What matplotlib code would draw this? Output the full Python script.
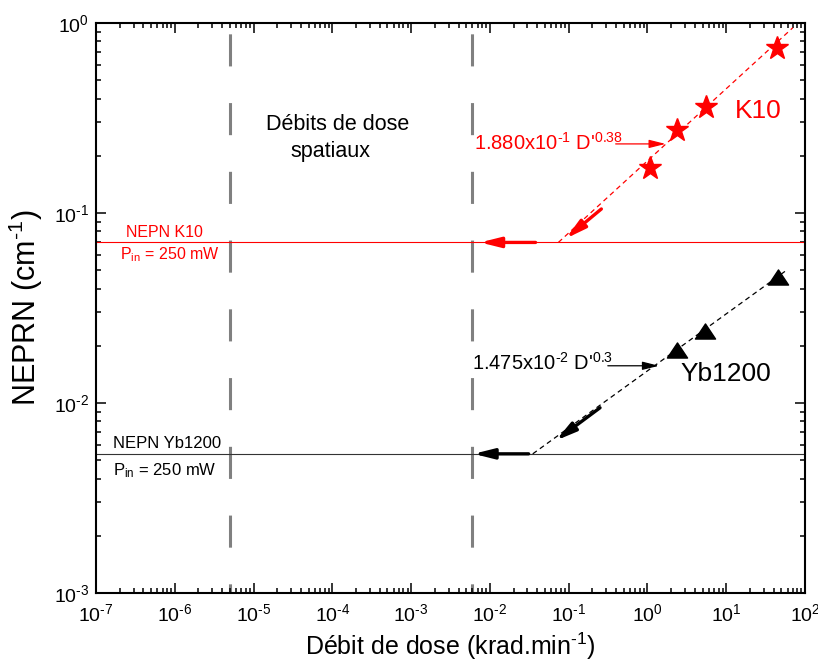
import math

import matplotlib

matplotlib.use("Agg")
import matplotlib.pyplot as plt
from matplotlib.markers import MarkerStyle
from matplotlib.path import Path
from matplotlib.ticker import LogLocator, FuncFormatter, NullFormatter

plt.rcParams["font.family"] = ["Liberation Sans", "DejaVu Sans"]
plt.rcParams["mathtext.fontset"] = "custom"
plt.rcParams["mathtext.rm"] = "Liberation Sans"
plt.rcParams["mathtext.it"] = "Liberation Sans"
plt.rcParams["mathtext.default"] = "regular"

k10_dose = [1.09, 2.39, 5.5, 43.9]
k10_neprn = [0.172, 0.275, 0.361, 0.742]
yb_dose = [2.35, 5.42, 45.2]
yb_neprn = [0.0191, 0.0239, 0.046]

# power-law fit segments: 1.880e-1 D^0.38 and 1.475e-2 D^0.3
k10_fit_dose = [0.074, 70]
k10_fit_neprn = [0.07, 0.944]
yb_fit_dose = [0.035, 60]
yb_fit_neprn = [0.0054, 0.0504]

# NEPN threshold levels (Pin = 250 mW)
nepn_k10 = 0.07
nepn_yb = 0.0054

# limits of the space dose-rate band
space_dose_limits = [5e-6, 6e-3]

RED = "#ff0000"
GRAY = "#808080"
HY = r"\text{-}"  # plain hyphen inside superscripts, as in the original

fig = plt.figure(figsize=(8.18, 6.62), dpi=100)
ax = fig.add_axes([96 / 818, 69 / 662, 709 / 818, 570 / 662])
ax.set_xscale("log")
ax.set_yscale("log")
ax.set_xlim(1e-7, 1e2)
ax.set_ylim(1e-3, 1e0)

for xv in space_dose_limits:
    ax.axvline(xv, color=GRAY, lw=2.2, linestyle=(7.5, (10.5, 12)), zorder=1)

ax.axhline(nepn_k10, color=RED, lw=0.8, zorder=2)
ax.axhline(nepn_yb, color="#333333", lw=0.8, zorder=2)

ax.plot(k10_fit_dose, k10_fit_neprn, color=RED, lw=0.9, linestyle=(0, (4, 3)), zorder=3)
ax.plot(yb_fit_dose, yb_fit_neprn, color="black", lw=0.9, linestyle=(0, (4, 3)), zorder=3)

flat_triangle = MarkerStyle(Path([(-1, -0.75), (1, -0.75), (0, 0.75), (-1, -0.75)], closed=True))
ax.plot(k10_dose, k10_neprn, linestyle="none", marker="*", ms=17, color=RED, mec=RED, zorder=4)
ax.plot(yb_dose, yb_neprn, linestyle="none", marker=flat_triangle, ms=14.5, color="black", zorder=4)


def arrow(tip, tail, color, lw, head_len, head_w):
    ax.annotate(
        "",
        xy=tip,
        xytext=tail,
        arrowprops=dict(
            arrowstyle=f"-|>,head_length={head_len},head_width={head_w}",
            color=color,
            lw=lw,
            shrinkA=0,
            shrinkB=0,
            mutation_scale=10,
        ),
        zorder=5,
    )


# thick arrows from the fit down to the NEPN level, then to the space band
arrow((0.092, 0.0734), (0.26, 0.105), RED, 2.4, 1.2, 0.3)
arrow((0.0075, nepn_k10), (0.038, nepn_k10), RED, 2.4, 1.2, 0.3)
arrow((0.069, 0.00635), (0.25, 0.00944), "black", 2.4, 1.2, 0.3)
arrow((0.0062, nepn_yb), (0.031, nepn_yb), "black", 2.4, 1.2, 0.3)

# thin arrows pointing at the fit lines
arrow((1.70, 0.231), (0.395, 0.231), RED, 0.9, 1.0, 0.25)
arrow((1.40, 0.0157), (0.314, 0.0157), "black", 0.9, 1.0, 0.25)

ax.text(0.488, 0.215, f"1.880x10$^{{{HY}1}}$ D'$^{{0.38}}$", color=RED, fontsize=14.5,
        ha="right", va="baseline")
ax.text(0.364, 0.01497, f"1.475x10$^{{{HY}2}}$ D'$^{{0.3}}$", color="black", fontsize=14.5,
        ha="right", va="baseline")

ax.text(25.5, 0.315, "K10", color=RED, fontsize=19, ha="center", va="baseline")
ax.text(10.0, 0.01298, "Yb1200", color="black", fontsize=19, ha="center", va="baseline")

ax.text(1.16e-4, 0.2735, "Débits de dose", fontsize=15.5, ha="center", va="baseline")
ax.text(9.5e-5, 0.198, "spatiaux", fontsize=15.5, ha="center", va="baseline")

ax.text(2.4e-7, 0.0745, "NEPN K10", color=RED, fontsize=11.5, ha="left", va="baseline")
ax.text(2.02e-7, 0.0571, "P$_{in}$ = 250 mW", color=RED, fontsize=11.5, ha="left", va="baseline")
ax.text(1.64e-7, 5.78e-3, "NEPN Yb1200", color="black", fontsize=12, ha="left", va="baseline")
ax.text(1.64e-7, 4.18e-3, "P$_{in}$ = 250 mW", color="black", fontsize=12, ha="left", va="baseline")


def power_label(value, _pos):
    exp = int(round(math.log10(value)))
    sign = HY if exp < 0 else ""
    return f"$10^{{{sign}{abs(exp)}}}$"


for axis in (ax.xaxis, ax.yaxis):
    axis.set_major_locator(LogLocator(base=10, numticks=20))
    axis.set_minor_locator(LogLocator(base=10, subs=range(2, 10), numticks=20))
    axis.set_major_formatter(FuncFormatter(power_label))
    axis.set_minor_formatter(NullFormatter())

ax.tick_params(which="both", direction="in", top=True, right=True, width=1.1, labelsize=14)
ax.tick_params(which="major", length=7)
ax.tick_params(which="minor", length=3.5)
ax.tick_params(axis="x", pad=7)
ax.tick_params(axis="y", pad=5)
for spine in ax.spines.values():
    spine.set_linewidth(1.5)

ax.set_xlabel(f"Débit de dose (krad.min$^{{{HY}1}}$)", fontsize=18, labelpad=4)
ax.set_ylabel(f"NEPRN (cm$^{{{HY}1}}$)", fontsize=22, labelpad=6)

fig.savefig("out.png", dpi=100)
